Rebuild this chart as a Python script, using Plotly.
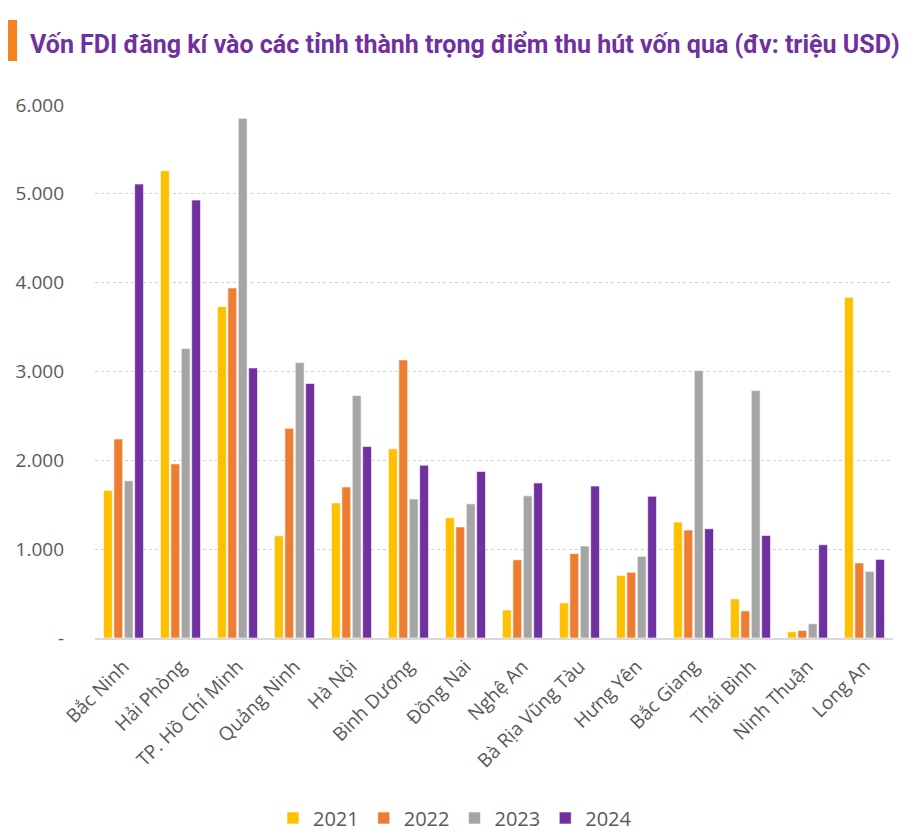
import plotly.graph_objects as go

title_text = "Vốn FDI đăng kí vào các tỉnh thành trọng điểm thu hút vốn qua (đv: triệu USD)"

provinces = ["Bắc Ninh", "Hải Phòng", "TP. Hồ Chí Minh", "Quảng Ninh", "Hà Nội",
             "Bình Dương", "Đồng Nai", "Nghệ An", "Bà Rịa Vũng Tàu", "Hưng Yên",
             "Bắc Giang", "Thái Bình", "Ninh Thuận", "Long An"]

years = ["2021", "2022", "2023", "2024"]

v2021 = [1660, 5260, 3730, 1150, 1520, 2130, 1355, 315, 395, 705, 1305, 440, 70, 3835]
v2022 = [2240, 1960, 3940, 2360, 1700, 3130, 1250, 880, 950, 740, 1215, 305, 85, 845]
v2023 = [1770, 3260, 5850, 3100, 2730, 1565, 1510, 1600, 1035, 920, 3010, 2785, 160, 750]
v2024 = [5110, 4930, 3040, 2865, 2155, 1945, 1875, 1745, 1710, 1595, 1230, 1155, 1050, 885]

series_values = [v2021, v2022, v2023, v2024]
colors = ["#FFC000", "#ED7D31", "#A5A5A5", "#7030A0"]

y_tickvals = [0, 1000, 2000, 3000, 4000, 5000, 6000]
y_ticktext = ["-", "1.000", "2.000", "3.000", "4.000", "5.000", "6.000"]

OFF = 8  # page body margin
W, H = 913, 838
L, T = 95 - OFF, 105 - OFF
R, B = W - (893 - OFF), H - (638 - OFF)
PW, PH = W - L - R, H - T - B


def px_x(x):
    return (x - OFF - L) / PW


def px_y(y):
    return 1 - (y - OFF - T) / PH


fig = go.Figure()
for name, vals, col in zip(years, series_values, colors):
    fig.add_trace(go.Bar(
        x=provinces, y=vals, name=name,
        marker=dict(color=col, line=dict(color="rgba(255,255,255,0.6)", width=1)),
    ))

fig.update_layout(
    barmode="group",
    bargap=0.27,
    bargroupgap=0.15,
    width=W, height=H,
    paper_bgcolor="white", plot_bgcolor="white",
    margin=dict(l=L, r=R, t=T, b=B, autoexpand=False),
    font=dict(family="Open Sans", color="#595959", size=16),
    showlegend=True,
    legend=dict(orientation="h", x=px_x(455), xanchor="center",
                y=px_y(818), yanchor="middle",
                font=dict(size=20, color="#595959"), itemwidth=30, traceorder="normal"),
    xaxis=dict(tickangle=-45, showgrid=False, showline=True, linecolor="#D9D9D9",
               linewidth=2, ticks="", ticklabelstandoff=8,
               tickfont=dict(size=19, color="#595959")),
    yaxis=dict(range=[0, 6000], tickvals=y_tickvals, ticktext=y_ticktext,
               showgrid=True, gridcolor="#D0D0D0", griddash="dot", gridwidth=1,
               zeroline=False, showline=False, ticklabelstandoff=30,
               tickfont=dict(size=19, color="#595959")),
)

fig.add_shape(type="rect", xref="paper", yref="paper",
              x0=px_x(4), x1=px_x(17), y0=px_y(61), y1=px_y(20),
              fillcolor="#F58220", line=dict(width=0))

fig.add_annotation(text="<b>" + title_text + "</b>", xref="paper", yref="paper",
                   x=px_x(28), y=px_y(44), xanchor="left", yanchor="middle",
                   showarrow=False,
                   font=dict(family="Roboto", size=25, color="#7030A0"))

fig.write_html("out.html")
